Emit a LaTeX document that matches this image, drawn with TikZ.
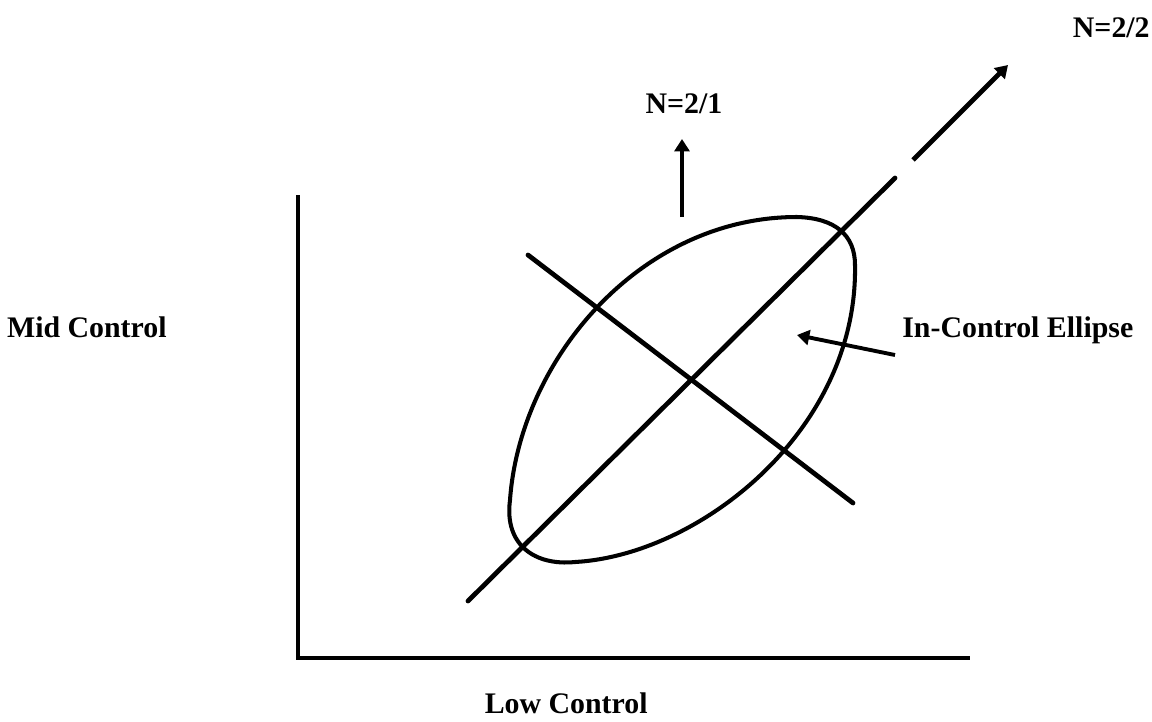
\documentclass[tikz,border=0pt]{standalone}
\usepackage{fontspec}
\setmainfont{Liberation Serif}
\usetikzlibrary{arrows.meta}
\begin{document}
\begin{tikzpicture}[x=0.02cm,y=-0.02cm,
  lbl/.style={font=\bfseries\fontsize{17}{20}\selectfont, inner sep=0pt},
  axisline/.style={line width=2.2pt, line cap=butt},
  diagline/.style={line width=2.7pt, line cap=round},
  ellline/.style={line width=2.3pt, line join=round},
  ptr/.style={line width=2.2pt, -{Triangle[length=7pt,width=8.5pt]}}]
\useasboundingbox (0,0) rectangle (1152,721);
% axes
\coordinate (ytop) at (298,195);
\coordinate (orig) at (298,658);
\coordinate (xend) at (970,658);
\draw[axisline] (ytop) -- (orig) -- (xend);
% labels
\node[lbl, anchor=base east] (mid) at (167,337) {Mid Control};
\node[lbl, anchor=base east] (low) at (648,713) {Low Control};
\node[lbl, anchor=base west] (ice) at (902,337) {In-Control Ellipse};
\node[lbl, anchor=base] (n21) at (684,113) {N=2/1};
\node[lbl, anchor=base east] (n22) at (1150,37) {N=2/2};
% ellipse
\coordinate (eL) at (510,500);
\coordinate (eT) at (797,217);
\coordinate (eR) at (855,265);
\coordinate (eB) at (575,562);
\draw[ellline] (eL) .. controls (520,360) and (640,217) .. (eT)
  .. controls (835,218) and (855,235) .. (eR)
  .. controls (858,430) and (700,555) .. (eB)
  .. controls (535,566) and (504,545) .. (eL) -- cycle;
% main diagonal with gap
\coordinate (d0) at (468,601);
\coordinate (g1) at (895,178);
\coordinate (g2) at (913,160);
\coordinate (d1) at (1008,65);
\draw[diagline] (d0) -- (g1);
\draw[diagline, line cap=butt, -{Triangle[length=7pt,width=8.5pt]}] (g2) -- (d1);
% cross line
\coordinate (c0) at (528,255);
\coordinate (c1) at (853,503);
\draw[diagline] (c0) -- (c1);
% up arrow
\coordinate (u0) at (682,217);
\coordinate (u1) at (682,139);
\draw[ptr] (u0) -- (u1);
% pointer arrow
\coordinate (p0) at (895,355);
\coordinate (p1) at (797,335);
\draw[ptr] (p0) -- (p1);
\end{tikzpicture}
\end{document}
